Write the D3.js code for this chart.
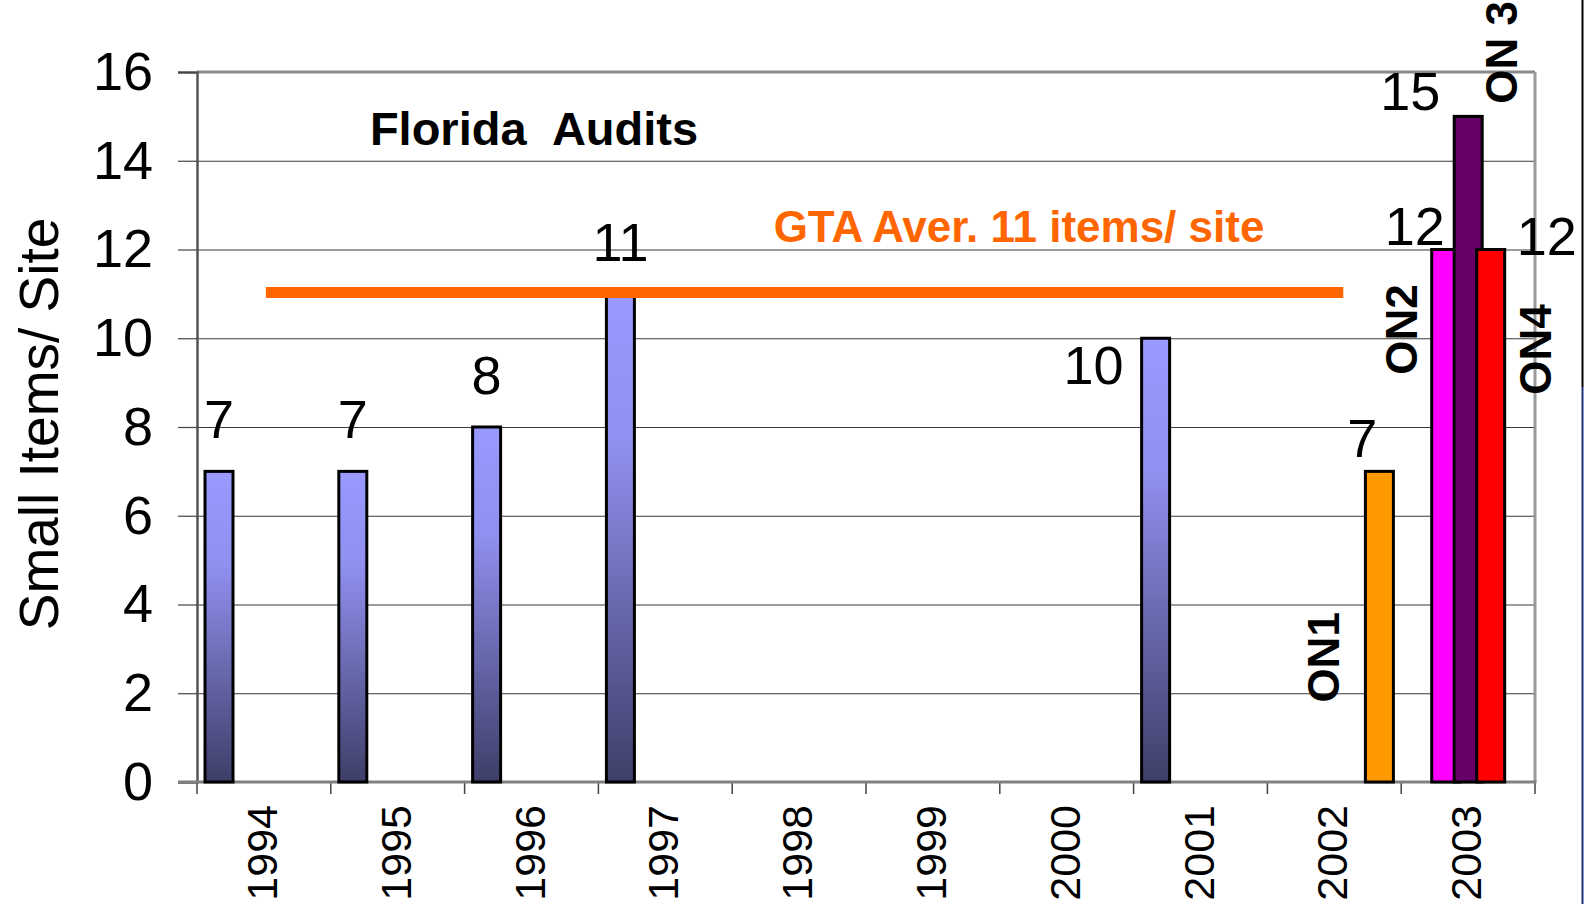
<!DOCTYPE html>
<html>
<head>
<meta charset="utf-8">
<script src="https://cdn.jsdelivr.net/npm/d3@7"></script>
<style>
  html, body { margin: 0; padding: 0; background: #fff; }
  svg { display: block; font-family: 'Liberation Sans', Arial, sans-serif; }
</style>
</head>
<body>
<svg id="chart" width="1584" height="904"></svg>
<script>
// ---------------- data ----------------
const categories = ['1994','1995','1996','1997','1998','1999','2000','2001','2002','2003'];
const floridaAudits = [7, 7, 8, 11, null, null, null, 10, null, null];
const on1Values = [null, null, null, null, null, null, null, null, 7, null];
const on2Values = [null, null, null, null, null, null, null, null, null, 12];
const on3Values = [null, null, null, null, null, null, null, null, null, 15];
const on4Values = [null, null, null, null, null, null, null, null, null, 12];
const gtaAverage = [11, 11, 11, 11, 11, 11, 11, 11, 11, null];
const yTickValues = [0, 2, 4, 6, 8, 10, 12, 14, 16];
const seriesNames = ['Florida', 'ON2', 'ON 3', 'ON4', 'ON1'];
const chartTitle = 'Florida Audits';
const averageLabel = 'GTA Aver. 11 items/ site';
const yAxisTitle = 'Small Items/ Site';

// ---------------- layout / style ----------------
const W = 1584, H = 904;
const plot = { left: 197, right: 1535, top: 72, bottom: 782 };
const barW = 28, barStroke = 3;
const fontNum = 54;
const seriesStyle = {
  'Florida': { fill: 'url(#blueGrad)' },
  'ON1': { fill: '#FF9900' },
  'ON2': { fill: '#FF00FF' },
  'ON 3': { fill: '#660066' },
  'ON4': { fill: '#FF0000' }
};
// manual label nudges (layout only), relative to bar centre / bar top
const valueLabelNudge = {
  'Florida|2001': { dx: -62, dy: 46 },
  'ON1|2002': { dx: -17, dy: -14 },
  'ON2|2003': { dx: -31, dy: -5 },
  'ON 3|2003': { dx: -58, dy: -6 },
  'ON4|2003': { dx: 56, dy: 5 }
};
const nameLabelNudge = {
  'ON1': { dx: -56, dy: 186 },
  'ON2': { dx: -44, dy: 80 },
  'ON 3': { dx: 33, dy: -64 },
  'ON4': { dx: 45, dy: 100 }
};

const svg = d3.select('#chart');

const defs = svg.append('defs');
const grad = defs.append('linearGradient').attr('id', 'blueGrad')
  .attr('x1', 0).attr('y1', 0).attr('x2', 0).attr('y2', 1);
grad.append('stop').attr('offset', '0%').attr('stop-color', '#9999FF');
grad.append('stop').attr('offset', '30%').attr('stop-color', '#9090F0');
grad.append('stop').attr('offset', '100%').attr('stop-color', '#3E3E68');

const x = d3.scaleBand().domain(categories).range([plot.left, plot.right]).padding(0);
const slot = d3.scalePoint().domain(seriesNames).range([0.1645, 0.837]);
const y = d3.scaleLinear().domain([0, 16]).range([plot.bottom, plot.top]);
const cx = (cat, s) => x(cat) + slot(s) * x.bandwidth();

// gridlines
const grid = svg.append('g').attr('transform', `translate(${plot.left},0)`)
  .call(d3.axisLeft(y).tickValues(yTickValues.filter(v => v > 0 && v < 16)).tickSize(-(plot.right - plot.left)).tickFormat(''));
grid.select('.domain').remove();
grid.selectAll('line').attr('stroke', '#3a3a3a').attr('stroke-width', 1.2);

// plot frame (top + right)
svg.append('line').attr('x1', plot.left).attr('x2', plot.right).attr('y1', y(16)).attr('y2', y(16))
  .attr('stroke', '#8a8a8a').attr('stroke-width', 3);
svg.append('line').attr('x1', plot.right).attr('x2', plot.right).attr('y1', y(16)).attr('y2', y(0))
  .attr('stroke', '#9a9a9a').attr('stroke-width', 3);

// y axis
const yAxis = svg.append('g').attr('transform', `translate(${plot.left},0)`)
  .call(d3.axisLeft(y).tickValues(yTickValues).tickSize(19).tickPadding(25));
yAxis.select('.domain').attr('stroke', '#555').attr('stroke-width', 2.5);
yAxis.selectAll('.tick line').attr('stroke', '#444').attr('stroke-width', 1.2);
yAxis.selectAll('.tick text').attr('font-size', fontNum).attr('fill', '#000')
  .attr('font-family', "'Liberation Sans', Arial, sans-serif");

// x axis (labels at category centres, ticks at boundaries)
const xAxis = svg.append('g').attr('transform', `translate(0,${plot.bottom})`)
  .call(d3.axisBottom(x).tickSize(0).tickPadding(0));
xAxis.select('.domain').remove();
xAxis.selectAll('.tick text')
  .attr('font-size', 43).attr('fill', '#000')
  .attr('font-family', "'Liberation Sans', Arial, sans-serif")
  .attr('text-anchor', 'end')
  .attr('transform', 'translate(-2,23) rotate(-90)')
  .attr('x', 0).attr('y', 0).attr('dy', '0.35em');
const boundaries = categories.map(c => x(c)).concat([plot.right]);
svg.append('g').selectAll('line').data(boundaries).join('line')
  .attr('x1', d => d).attr('x2', d => d).attr('y1', plot.bottom).attr('y2', plot.bottom + 12)
  .attr('stroke', '#444').attr('stroke-width', 1.5);
svg.append('line').attr('x1', plot.left - 19).attr('x2', plot.right + 1.5)
  .attr('y1', plot.bottom).attr('y2', plot.bottom)
  .attr('stroke', '#808080').attr('stroke-width', 3);

// bars
const seriesData = [
  { name: 'Florida', values: floridaAudits },
  { name: 'ON1', values: on1Values },
  { name: 'ON2', values: on2Values },
  { name: 'ON 3', values: on3Values },
  { name: 'ON4', values: on4Values }
];
const barsG = svg.append('g');
seriesData.forEach(s => {
  const pts = categories.map((c, i) => ({ cat: c, v: s.values[i], name: s.name })).filter(d => d.v != null);
  barsG.append('g').selectAll('rect').data(pts).join('rect')
    .attr('x', d => cx(d.cat, d.name) - barW / 2)
    .attr('width', barW)
    .attr('y', d => y(d.v))
    .attr('height', d => y(0) - y(d.v))
    .attr('fill', seriesStyle[s.name].fill)
    .attr('stroke', '#000').attr('stroke-width', barStroke);
});

// GTA average line
const avgPts = categories.map((c, i) => ({ cat: c, v: gtaAverage[i] })).filter(d => d.v != null);
const lineGen = d3.line().x((d, i) => x(d.cat) + x.bandwidth() / 2 + (i === 0 ? 2 : (i === avgPts.length - 1 ? 9 : 0))).y(d => y(d.v) - 1.5);
svg.append('path').datum(avgPts).attr('d', lineGen)
  .attr('fill', 'none').attr('stroke', '#FF6600').attr('stroke-width', 11);

// value labels
const labelsG = svg.append('g').attr('font-size', fontNum).attr('fill', '#000').attr('text-anchor', 'middle');
seriesData.forEach(s => {
  categories.forEach((c, i) => {
    const v = s.values[i];
    if (v == null) return;
    const n = valueLabelNudge[s.name + '|' + c] || { dx: 0, dy: -33 };
    labelsG.append('text')
      .attr('x', cx(c, s.name) + n.dx)
      .attr('y', y(v) + n.dy)
      .text(v);
  });
});

// series name labels (rotated, bold)
seriesData.filter(s => s.name !== 'Florida').forEach(s => {
  const i = s.values.findIndex(v => v != null);
  const c = categories[i];
  const n = nameLabelNudge[s.name];
  svg.append('text')
    .attr('transform', `translate(${cx(c, s.name) + n.dx},${y(s.values[i]) + n.dy}) rotate(-90)`)
    .attr('text-anchor', 'middle').attr('dy', '0.35em')
    .attr('font-size', 44).attr('font-weight', 'bold').attr('fill', '#000')
    .text(s.name);
});

// titles
svg.append('text').attr('x', 534).attr('y', 145).attr('text-anchor', 'middle')
  .attr('font-size', 47).attr('font-weight', 'bold').attr('word-spacing', 14)
  .text(chartTitle);
svg.append('text').attr('x', 1019).attr('y', 242).attr('text-anchor', 'middle')
  .attr('font-size', 44).attr('font-weight', 'bold').attr('fill', '#FF6600')
  .text(averageLabel);
svg.append('text').attr('transform', 'translate(58,424) rotate(-90)')
  .attr('text-anchor', 'middle').attr('font-size', 55).attr('fill', '#000')
  .text(yAxisTitle);

// right-edge slide border remnant
svg.append('line').attr('x1', 1582.5).attr('x2', 1582.5).attr('y1', 0).attr('y2', 387)
  .attr('stroke', '#000').attr('stroke-width', 2);
svg.append('line').attr('x1', 1582.5).attr('x2', 1582.5).attr('y1', 387).attr('y2', H)
  .attr('stroke', '#1f2f7f').attr('stroke-width', 2);
</script>
</body>
</html>
